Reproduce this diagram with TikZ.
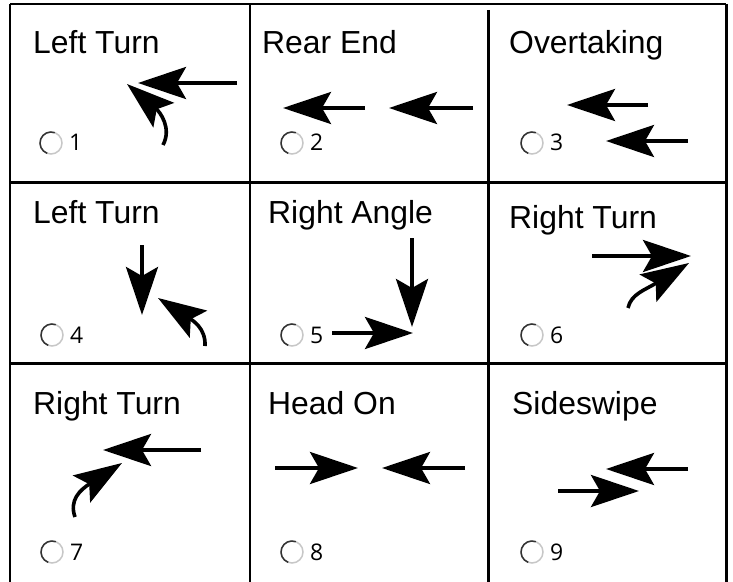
\documentclass[tikz,border=0pt]{standalone}
\usepackage{fontspec}
\setmainfont{Liberation Sans}
\newfontfamily\digitfont{Open Sans}
\usetikzlibrary{arrows.meta}
\begin{document}
\begin{tikzpicture}[x=1bp,y=-1bp,
  title/.style={anchor=base west, inner sep=0pt, font=\fontsize{32}{38}\selectfont},
  num/.style={anchor=base west, inner sep=0pt, font=\digitfont\fontsize{23}{26}\selectfont},
  radio/.style={circle, minimum size=22bp, inner sep=0pt, outer sep=0pt, draw=black!22, line width=1.5bp},
  thingrid/.style={line width=2bp},
  thickgrid/.style={line width=3bp},
  car/.style={line width=4bp, -{Stealth[length=48bp,width=32bp,inset=9bp]}},
  turncar/.style={line width=3.6bp, -{Stealth[length=48bp,width=32bp,inset=9bp]}},
]
\useasboundingbox (0,0) rectangle (733,582);
% grid
\draw[thingrid] (10,4) -- (726,4);
\draw[thingrid] (10,4) -- (10,582);
\draw[thickgrid] (726,4) -- (726,582);
\draw[line width=2.5bp] (250,4) -- (250,582);
\draw[thickgrid] (488,10) -- (488,582);
\draw[thickgrid] (10,183) -- (726,183);
\draw[thickgrid] (10,363) -- (726,363);
% titles
\node[title] (t1) at (33,54) {Left Turn};
\node[title] (t2) at (262,54) {Rear End};
\node[title] (t3) at (509,54) {Overtaking};
\node[title] (t4) at (33,223) {Left Turn};
\node[title] (t5) at (268,223) {Right Angle};
\node[title] (t6) at (509,228) {Right Turn};
\node[title] (t7) at (33,414) {Right Turn};
\node[title] (t8) at (268,414) {Head On};
\node[title] (t9) at (512,414) {Sideswipe};
% radio buttons and numbers
\foreach \i/\x/\y in {1/51/143, 2/292/143, 3/532/143, 4/52/335, 5/292/335, 6/532/335, 7/52/552, 8/292/552, 9/532/552} {
  \node[radio] (r\i) at (\x,\y) {};
  \draw[black!80, line width=1.5bp] (r\i.70) arc[start angle=70, end angle=250, radius=11bp];
  \node[num] (n\i) at (\x+18,\y+8) {\i};
}
% cell 1
\coordinate (a1s) at (237,83); \coordinate (a1e) at (138,83);
\draw[car] (a1s) -- (a1e);
\coordinate (b1s) at (163,145); \coordinate (b1e) at (127,84);
\draw[turncar] (b1s) .. controls (172,128) and (160,112) .. (b1e);
% cell 2
\coordinate (a2s) at (365,108); \coordinate (a2e) at (283,108);
\draw[car] (a2s) -- (a2e);
\coordinate (b2s) at (473,108); \coordinate (b2e) at (389,108);
\draw[car] (b2s) -- (b2e);
% cell 3
\coordinate (a3s) at (648,105); \coordinate (a3e) at (567,105);
\draw[car] (a3s) -- (a3e);
\coordinate (b3s) at (688,141); \coordinate (b3e) at (606,141);
\draw[car] (b3s) -- (b3e);
% cell 4
\coordinate (a4s) at (142,245); \coordinate (a4e) at (142,315);
\draw[car] (a4s) -- (a4e);
\coordinate (b4s) at (205,346); \coordinate (b4e) at (158,298);
\draw[turncar] (b4s) .. controls (206,328) and (192,320) .. (b4e);
% cell 5
\coordinate (a5s) at (412,238); \coordinate (a5e) at (412,327);
\draw[car] (a5s) -- (a5e);
\coordinate (b5s) at (332,333); \coordinate (b5e) at (413,333);
\draw[car] (b5s) -- (b5e);
% cell 6
\coordinate (a6s) at (592,256); \coordinate (a6e) at (691,256);
\draw[car] (a6s) -- (a6e);
\coordinate (b6s) at (628,308); \coordinate (b6e) at (689,263);
\draw[turncar] (b6s) .. controls (631,294) and (645,290) .. (b6e);
% cell 7
\coordinate (a7s) at (201,450); \coordinate (a7e) at (103,450);
\draw[car] (a7s) -- (a7e);
\coordinate (b7s) at (75,517); \coordinate (b7e) at (122,463);
\draw[turncar] (b7s) .. controls (69,500) and (80,490) .. (b7e);
% cell 8
\coordinate (a8s) at (275,468); \coordinate (a8e) at (358,468);
\draw[car] (a8s) -- (a8e);
\coordinate (b8s) at (465,468); \coordinate (b8e) at (382,468);
\draw[car] (b8s) -- (b8e);
% cell 9
\coordinate (a9s) at (688,469); \coordinate (a9e) at (606,469);
\draw[car] (a9s) -- (a9e);
\coordinate (b9s) at (558,491); \coordinate (b9e) at (639,491);
\draw[car] (b9s) -- (b9e);
\end{tikzpicture}
\end{document}
